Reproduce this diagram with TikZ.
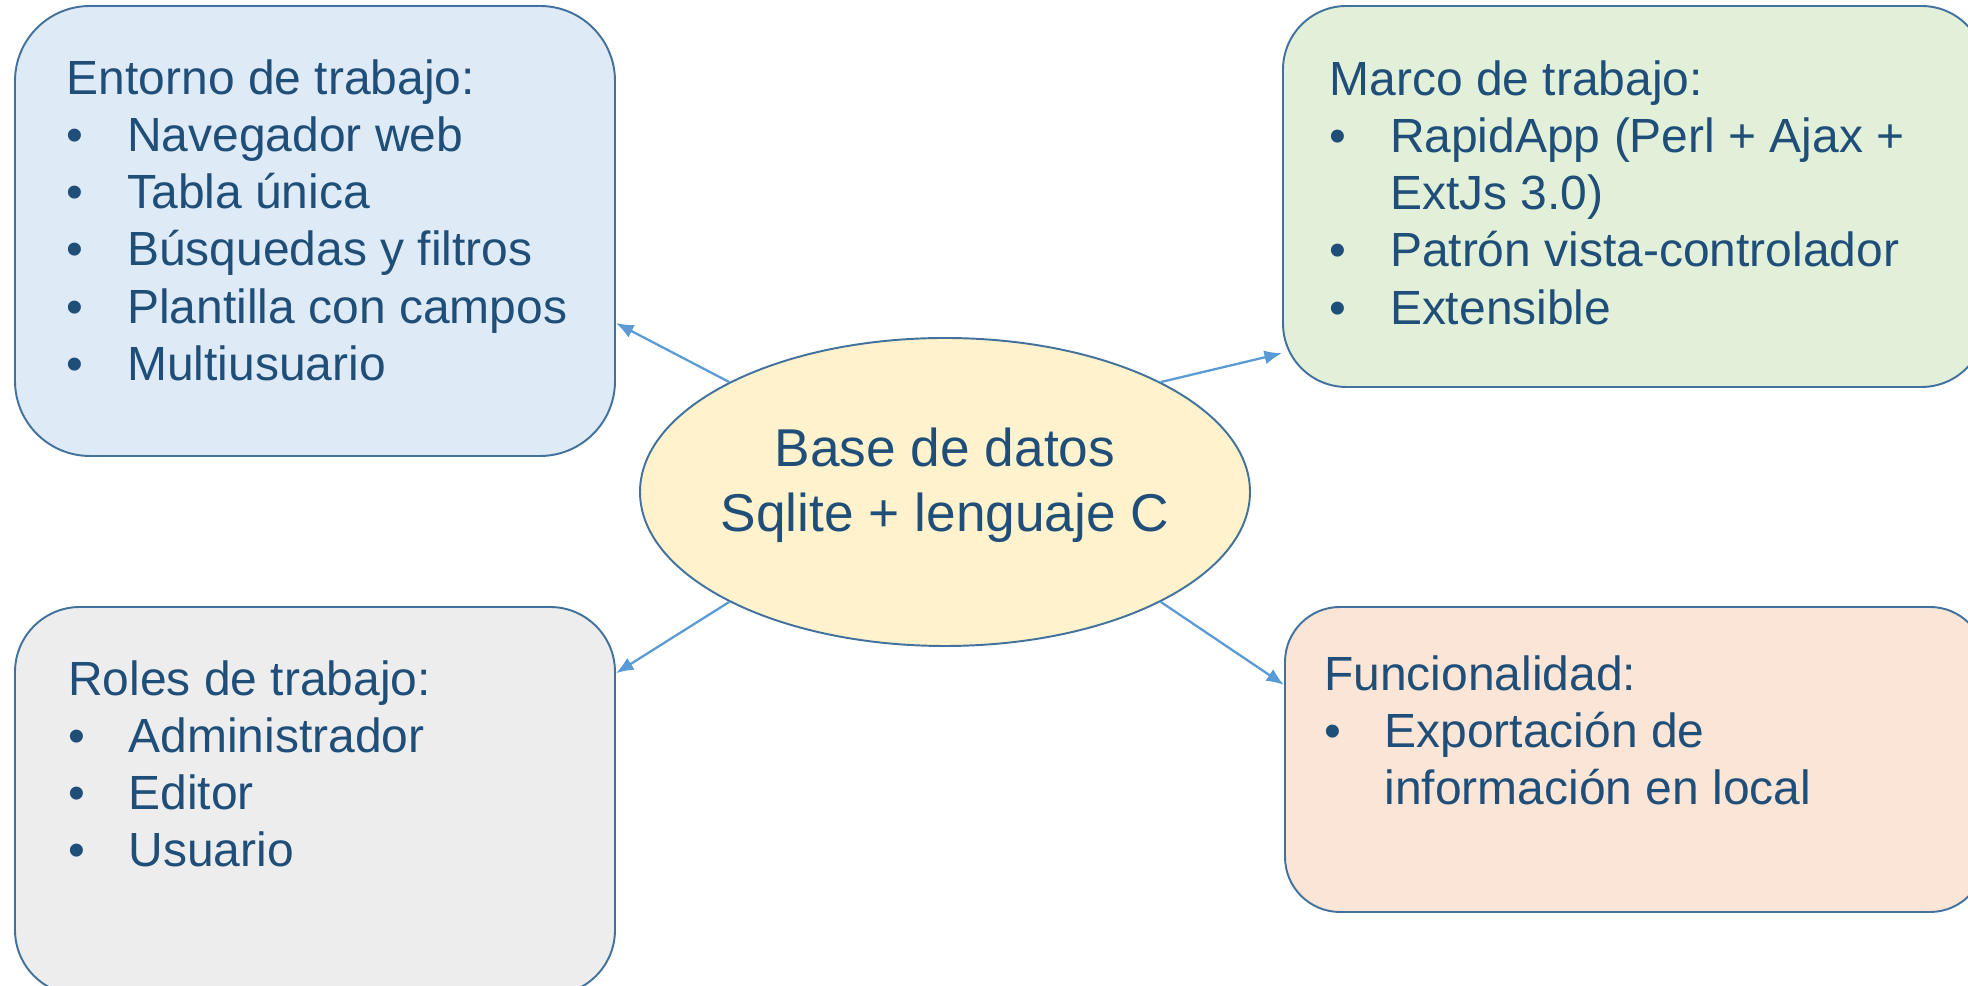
\documentclass[tikz,border=0pt]{standalone}
\usepackage{fontspec}
\setmainfont{Liberation Sans}
\usepackage{xcolor}
\usetikzlibrary{shapes.geometric,arrows.meta}

\definecolor{edgeblue}{HTML}{41719C}
\definecolor{arrowblue}{HTML}{5B9BD5}
\definecolor{textblue}{HTML}{1F4E79}
\definecolor{fillblue}{HTML}{DEEBF7}
\definecolor{fillgreen}{HTML}{E2F0D9}
\definecolor{fillgrey}{HTML}{EDEDED}
\definecolor{fillrose}{HTML}{FBE5D6}
\definecolor{fillyellow}{HTML}{FFF2CC}

\newcommand{\bul}{\makebox[1.26em][l]{\textbullet}}
\newcommand{\cont}{\hspace*{1.26em}}

\begin{document}
\begin{tikzpicture}[
  box/.style={draw=edgeblue, line width=1.1pt, rectangle},
  txt/.style={anchor=north west, align=left, inner sep=0pt, text=textblue, font=\fontsize{27.3}{32.5}\selectfont},
  link/.style={->, >={Latex[length=10pt,width=8pt]}, color=arrowblue, line width=1.3pt}
]
\useasboundingbox (0,0) rectangle (39.36,19.72);

% the four boxes
\node[box, fill=fillblue, minimum width=12cm, minimum height=9cm, rounded corners=1.5cm] at (6.3,15.1) (ent) {};
\node[box, fill=fillgreen, minimum width=14.04cm, minimum height=7.62cm, rounded corners=1.27cm] at (32.68,15.79) (mar) {};
\node[box, fill=fillgrey, minimum width=12cm, minimum height=7.76cm, rounded corners=1.3cm] at (6.3,3.7) (rol) {};
\node[box, fill=fillrose, minimum width=14cm, minimum height=6.1cm, rounded corners=1.1cm] at (32.7,4.53) (fun) {};

% their texts
\node[txt] at (1.33,18.53) (ent-t) {Entorno de trabajo:\\ \bul Navegador web\\ \bul Tabla única\\ \bul Búsquedas y filtros\\ \bul Plantilla con campos\\ \bul Multiusuario};
\node[txt] at (26.585,18.51) (mar-t) {Marco de trabajo:\\ \bul RapidApp (Perl + Ajax +\\ \cont ExtJs 3.0)\\ \bul Patrón vista-controlador\\ \bul Extensible};
\node[txt] at (1.355,6.52) (rol-t) {Roles de trabajo:\\ \bul Administrador\\ \bul Editor\\ \bul Usuario};
\node[txt] at (26.475,6.62) (fun-t) {Funcionalidad:\\ \bul Exportación de\\ \cont información en local};

% centre
\node[draw=edgeblue, line width=1.1pt, ellipse, fill=fillyellow, minimum width=12.2cm, minimum height=6.16cm, inner xsep=-6mm, inner ysep=0pt, align=center, text=textblue, font=\fontsize{30.3}{37}\selectfont] at (18.9,9.88) (db) {Base de datos\\Sqlite + lenguaje C\rule[-0.48cm]{0pt}{0.1pt}};

\path[link] (db.153) edge (ent.-17);
\path[link] (db.27) edge (mar.204);
\path[link] (db.207) edge (rol.23.5);
\path[link] (db.333) edge (fun.168);

\end{tikzpicture}
\end{document}
